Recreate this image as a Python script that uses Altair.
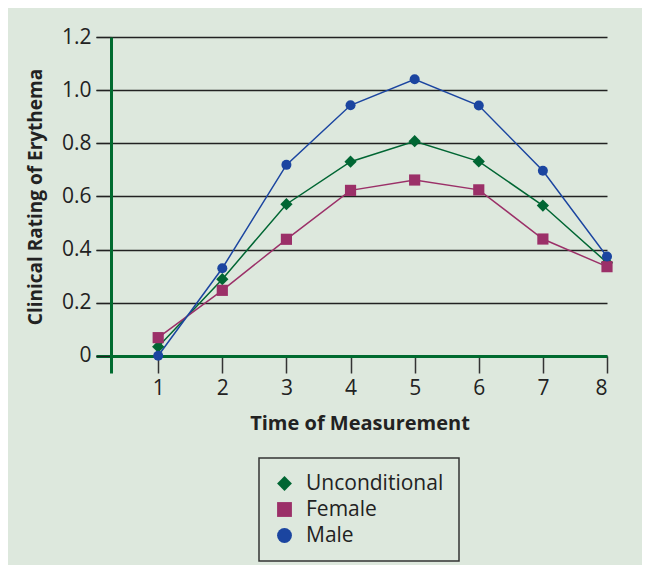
import altair as alt
import pandas as pd

times = [1, 2, 3, 4, 5, 6, 7, 8]
unconditional = [0.035, 0.289, 0.571, 0.731, 0.808, 0.732, 0.566, 0.351]
female = [0.069, 0.247, 0.439, 0.623, 0.662, 0.625, 0.440, 0.336]
male = [0.001, 0.330, 0.719, 0.943, 1.041, 0.942, 0.697, 0.374]
series_names = ["Unconditional", "Female", "Male"]
size_keys = ["k1", "k2", "k3"]
y_ticks = [0, 0.2, 0.4, 0.6, 0.8, 1.0, 1.2]

colors = ["#006633", "#9b3068", "#1b45a0"]
shapes = ["diamond", "square", "circle"]
sizes = [150, 100, 90]
BG = "#dde8dd"
AXIS_GREEN = "#006b2f"
FONT = "Open Sans"

rows = []
for name, key, vals in zip(series_names, size_keys, [unconditional, female, male]):
    for t, v in zip(times, vals):
        rows.append({"time": t, "value": v, "series": name, "sizekey": key})
df = pd.DataFrame(rows)

x_scale = alt.Scale(domain=[0.03, 8.0], nice=False, zero=False)
y_scale = alt.Scale(domain=[-0.064, 1.2], nice=False, zero=False)

x_enc = alt.X(
    "time:Q",
    scale=x_scale,
    axis=alt.Axis(
        title="Time of Measurement",
        values=times,
        format="d",
        offset=-17,
        domainColor=AXIS_GREEN,
        domainWidth=3,
        tickColor="#333333",
        tickWidth=1.5,
        tickSize=17,
        labelPadding=4,
        labelFontSize=21,
        labelColor="#222222",
        labelFont=FONT,
        grid=False,
        titleFont=FONT,
        titleFontSize=20,
        titleFontWeight="bold",
        titleColor="#222222",
        titleX=263.5,
        titleY=73,
        titleAlign="center",
        titleBaseline="alphabetic",
    ),
)
y_enc = alt.Y(
    "value:Q",
    scale=y_scale,
    axis=alt.Axis(
        title="Clinical Rating of Erythema",
        values=y_ticks,
        labelExpr="datum.value == 0 ? '0' : format(datum.value, '.1f')",
        offset=-15,
        domainColor=AXIS_GREEN,
        domainWidth=3,
        tickColor="#222222",
        tickWidth=1.2,
        tickSize=15,
        labelPadding=5,
        labelFontSize=21,
        labelColor="#222222",
        labelFont=FONT,
        grid=True,
        gridColor="#222222",
        gridWidth=1.3,
        gridOpacity=1,
        titleFont=FONT,
        titleFontSize=19,
        titleFontWeight="bold",
        titleColor="#222222",
        titleAngle=-90,
        titleX=-70,
        titleY=159.5,
        titleAlign="center",
        titleBaseline="alphabetic",
    ),
)

base = alt.Chart(df)

lines = base.mark_line(strokeWidth=1.5).encode(
    x=x_enc,
    y=y_enc,
    color=alt.Color(
        "series:N",
        scale=alt.Scale(domain=series_names, range=colors),
        legend=None,
    ),
    detail="series:N",
)

legend_props = dict(
    title=None,
    orient="none",
    legendX=163,
    legendY=421,
    padding=15,
    strokeColor="#333333",
    fillColor=BG,
    symbolSize=220,
    symbolStrokeWidth=0,
    labelFont=FONT,
    labelFontSize=21,
    labelColor="#222222",
    labelOffset=11,
    rowPadding=4,
)

points = base.mark_point(filled=True, opacity=1).encode(
    x=alt.X("time:Q", scale=x_scale),
    y=alt.Y("value:Q", scale=y_scale),
    color=alt.Color(
        "series:N",
        scale=alt.Scale(domain=series_names, range=colors),
        legend=alt.Legend(**legend_props),
    ),
    shape=alt.Shape(
        "series:N",
        scale=alt.Scale(domain=series_names, range=shapes),
        legend=alt.Legend(**legend_props),
    ),
    size=alt.Size(
        "sizekey:N",
        scale=alt.Scale(domain=size_keys, range=sizes),
        legend=None,
    ),
)

chart = (
    alt.layer(lines, points)
    .resolve_scale(color="independent", shape="independent", size="independent")
    .properties(
        width=511,
        height=336,
        autosize=alt.AutoSizeParams(type="none"),
        padding={"left": 88, "top": 29, "right": 35, "bottom": 192},
        background=BG,
    )
    .configure_view(stroke=None)
    .configure_legend(strokeWidth=1.5)
)

chart.save("out.html", embed_options={"renderer": "svg", "actions": False})
